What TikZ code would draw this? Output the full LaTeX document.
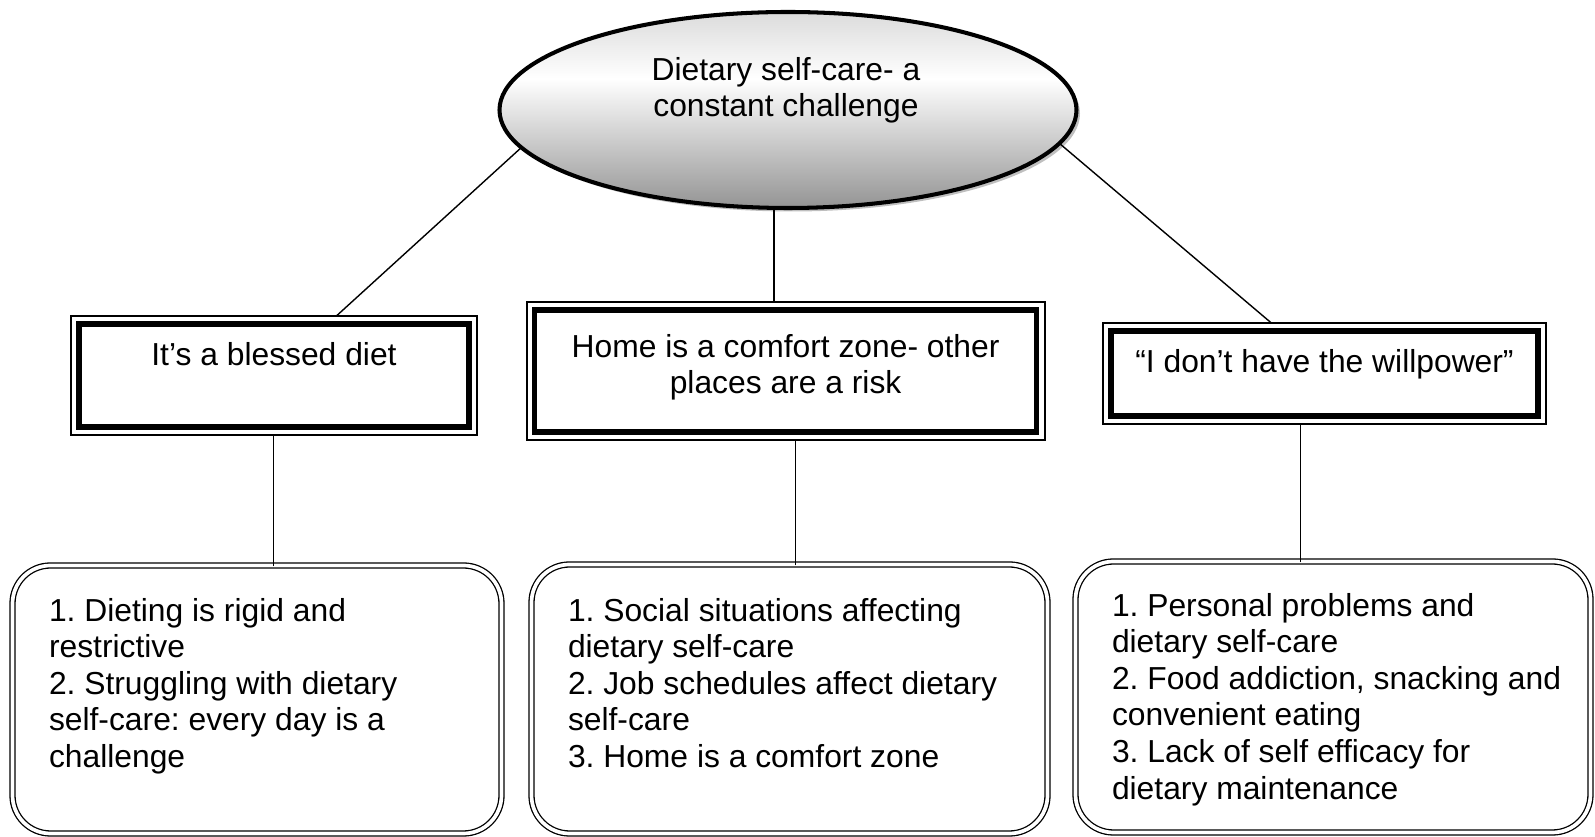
\documentclass[tikz,border=0pt]{standalone}
\usepackage{fontspec}
\setmainfont{Liberation Sans}
\usepackage{tikz}
\usetikzlibrary{shapes.geometric,shadows}
\usepackage{xcolor}
\frenchspacing
\pgfdeclareverticalshading{coreshade}{100bp}{color(0bp)=(black!42); color(25bp)=(black!42); color(58bp)=(white); color(75bp)=(black!14); color(100bp)=(black!14)}

\begin{document}
\begin{tikzpicture}[line cap=round,
  every node/.style={font=\fontsize{9.05pt}{10.42pt}\selectfont,inner sep=0pt,outer sep=0pt},
  core/.style={ellipse,draw,line width=1.15pt,shade,shading=coreshade,
    drop shadow={shadow xshift=0.035cm,shadow yshift=-0.035cm,opacity=1,fill=black!25}},
  theme/.style={draw,line width=0.6pt,fill=white},
  subtheme/.style={draw,double,double distance=1.05pt,line width=0.37pt,rounded corners=0.38cm},
  itemtext/.style={align=left,anchor=north west}]
\useasboundingbox (0,0) rectangle (15.95,8.37);
\node[core,minimum width=5.77cm,minimum height=1.96cm] (core) at (7.88,7.27) {};
\node[align=center,anchor=north] (coretext) at (7.86,7.80) {Dietary self-care- a\\constant challenge};
\node[theme,minimum width=4.06cm,minimum height=1.196cm] (blessed) at (2.737,4.615) {};
\node[theme,minimum width=5.18cm,minimum height=1.38cm] (home) at (7.856,4.66) {};
\node[theme,minimum width=4.436cm,minimum height=1.014cm] (willpower) at (13.245,4.636) {};
\foreach \b in {blessed,home,willpower}
  \draw[line width=1.6pt] ([shift={(0.08,0.08)}]\b.south west) rectangle ([shift={(-0.08,-0.08)}]\b.north east);
\node[anchor=base] (blessedtext) at (2.74,4.71) {It’s a blessed diet};
\node[align=center,anchor=north] (hometext) at (7.856,5.03) {Home is a comfort zone- other\\places are a risk};
\node[anchor=base] (willpowertext) at (13.245,4.64) {“I don’t have the willpower”};
\node[subtheme,minimum width=4.89cm,minimum height=2.68cm] (rigid) at (2.57,1.375) {};
\node[subtheme,minimum width=5.16cm,minimum height=2.69cm] (social) at (7.895,1.38) {};
\node[subtheme,minimum width=5.15cm,minimum height=2.71cm] (personal) at (13.33,1.40) {};
\node[itemtext] (rigidtext) at (0.49,2.39) {1. Dieting is rigid and\\restrictive\\2. Struggling with dietary\\self-care: every day is a\\challenge};
\node[itemtext] (socialtext) at (5.68,2.39) {1. Social situations affecting\\dietary self-care\\2. Job schedules affect dietary\\self-care\\3. Home is a comfort zone};
\node[itemtext] (personaltext) at (11.12,2.44) {1. Personal problems and\\dietary self-care\\2. Food addiction, snacking and\\convenient eating\\3. Lack of self efficacy for\\dietary maintenance};
\draw (core.188) -- ([xshift=0.63cm]blessed.north);
\draw ([xshift=-1.4mm]core.south) -- ([xshift=-1.4mm]core.south |- home.north);
\draw (core.353) -- ([xshift=-0.535cm]willpower.north);
\draw (blessed.south) -- (blessed.south |- rigid.north);
\draw ([xshift=1mm]home.south) -- ([xshift=1mm]home.south |- social.north);
\draw ([xshift=-2.4mm]willpower.south) -- ([xshift=-2.4mm]willpower.south |- personal.north);
\end{tikzpicture}
\end{document}
